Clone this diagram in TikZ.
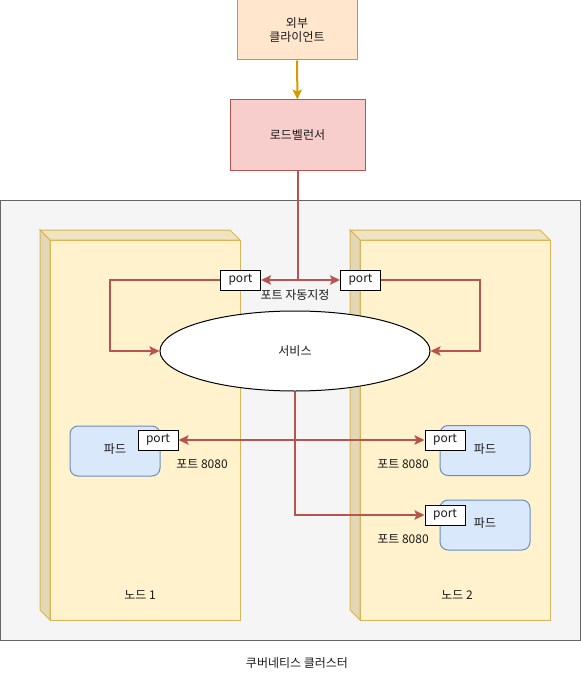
\documentclass[tikz,border=0pt]{standalone}
\usepackage{fontspec}
\setmainfont{Noto Sans CJK KR}
\usetikzlibrary{arrows.meta,shapes.geometric}

\definecolor{clientfill}{HTML}{FFE6CC}
\definecolor{clientline}{HTML}{D79B00}
\definecolor{lbfill}{HTML}{F8CECC}
\definecolor{lbline}{HTML}{B85450}
\definecolor{clusterfill}{HTML}{F5F5F5}
\definecolor{clusterline}{HTML}{666666}
\definecolor{nodefill}{HTML}{FFF2CC}
\definecolor{nodetop}{HTML}{F0E3C1}
\definecolor{nodeside}{HTML}{E3D7B6}
\definecolor{nodeline}{HTML}{D6B656}
\definecolor{podfill}{HTML}{DAE8FC}
\definecolor{podline}{HTML}{6C8EBF}
\definecolor{txt}{HTML}{1A1A1A}

\tikzset{
  client/.style={draw=clientline, fill=clientfill, line width=0.75pt,
    minimum width=90pt, minimum height=45pt, align=center},
  balancer/.style={draw=lbline, fill=lbfill, line width=0.75pt,
    minimum width=101.25pt, minimum height=52.5pt},
  portbox/.style={draw, fill=white, line width=0.75pt, inner sep=0pt,
    minimum width=30pt, minimum height=15pt},
  podbox/.style={draw=podline, fill=podfill, line width=0.75pt,
    rounded corners=6pt, minimum width=67.5pt, minimum height=37.5pt},
  redline/.style={draw=lbline, line width=1.5pt},
  redarrow/.style={redline, -{Stealth[length=7.5pt,width=7pt,inset=1.5pt]}},
  redboth/.style={redline, {Stealth[length=7.5pt,width=7pt,inset=1.5pt]}-{Stealth[length=7.5pt,width=7pt,inset=1.5pt]}},
  ylarrow/.style={draw=clientline, line width=1.5pt, -{Stealth[length=7.5pt,width=7pt,inset=1.5pt]}},
}

% cube drawn like draw.io's node shape
\newcommand{\nodecube}[4]{% x1,y1,x2,y2 (outer box)
  \fill[nodefill] (#1+10,#2+10) rectangle (#3,#4);
  \filldraw[fill=nodetop, draw=nodeline, line width=0.75pt]
    (#1,#2) -- (#3-10,#2) -- (#3,#2+10) -- (#1+10,#2+10) -- cycle;
  \filldraw[fill=nodeside, draw=nodeline, line width=0.75pt]
    (#1,#2) -- (#1+10,#2+10) -- (#1+10,#4) -- (#1,#4-10) -- cycle;
  \draw[nodeline, line width=0.75pt] (#1+10,#2+10) rectangle (#3,#4);
}

\begin{document}
\begin{tikzpicture}[x=0.75pt, y=-0.75pt, font=\fontsize{9}{11}\selectfont, text=txt]
  \useasboundingbox (0,0) rectangle (581,681);

  % cluster
  \draw[fill=clusterfill, draw=clusterline, line width=0.75pt] (0,200) rectangle (580,640);
  \node (clusterlbl) at (297,663) {쿠버네티스 클러스터};

  % nodes
  \nodecube{40}{230}{240}{620}
  \nodecube{350}{230}{550}{620}
  \node (node1) at (140,595) {노드 1};
  \node (node2) at (457,595) {노드 2};

  % client and load balancer
  \node[client] (client) at (297,30) {외부\\클라이언트};
  \node[balancer] (lb) at (297.5,135) {로드벨런서};
  \draw[ylarrow] (client) -- (lb);

  % service
  \node[ellipse, draw, fill=white, line width=0.75pt, inner sep=0pt,
    minimum width=202.5pt, minimum height=60pt] (svc) at (295,351) {서비스};

  \node[portbox] (p1) at (240.5,280) {port};
  \node[portbox] (p2) at (360.5,280) {port};
  \node (autolbl) at (295,295) {포트 자동지정};

  % pods
  \node[podbox] (pod1) at (115,451) {};
  \node at (115,449) {파드};
  \node[podbox] (pod2) at (485,450.5) {};
  \node at (485,449) {파드};
  \node[podbox] (pod3) at (485,525) {};
  \node at (485,523) {파드};

  \node[portbox] (q1) at (158,440) {port};
  \node[portbox] (q2) at (445,440) {port};
  \node[portbox] (q3) at (445,515) {port};
  \node (lbl1) at (202,464) {포트 8080};
  \node (lbl2) at (403,464) {포트 8080};
  \node (lbl3) at (403,539) {포트 8080};

  % connections
  \coordinate (split) at (297.5,280);
  \draw[redline] (lb.south) -- (split);
  \draw[redarrow] (split) -- (p1.east);
  \draw[redarrow] (split) -- (p2.west);
  \draw[redarrow] (p1.west) -- (110,280) |- (svc.west);
  \draw[redarrow] (p2.east) -- (480,280) |- (svc.east);
  \draw[redboth] (q1.east) -- (q2.west);
  \draw[redarrow] (svc.south) |- (q3.west);
\end{tikzpicture}
\end{document}
